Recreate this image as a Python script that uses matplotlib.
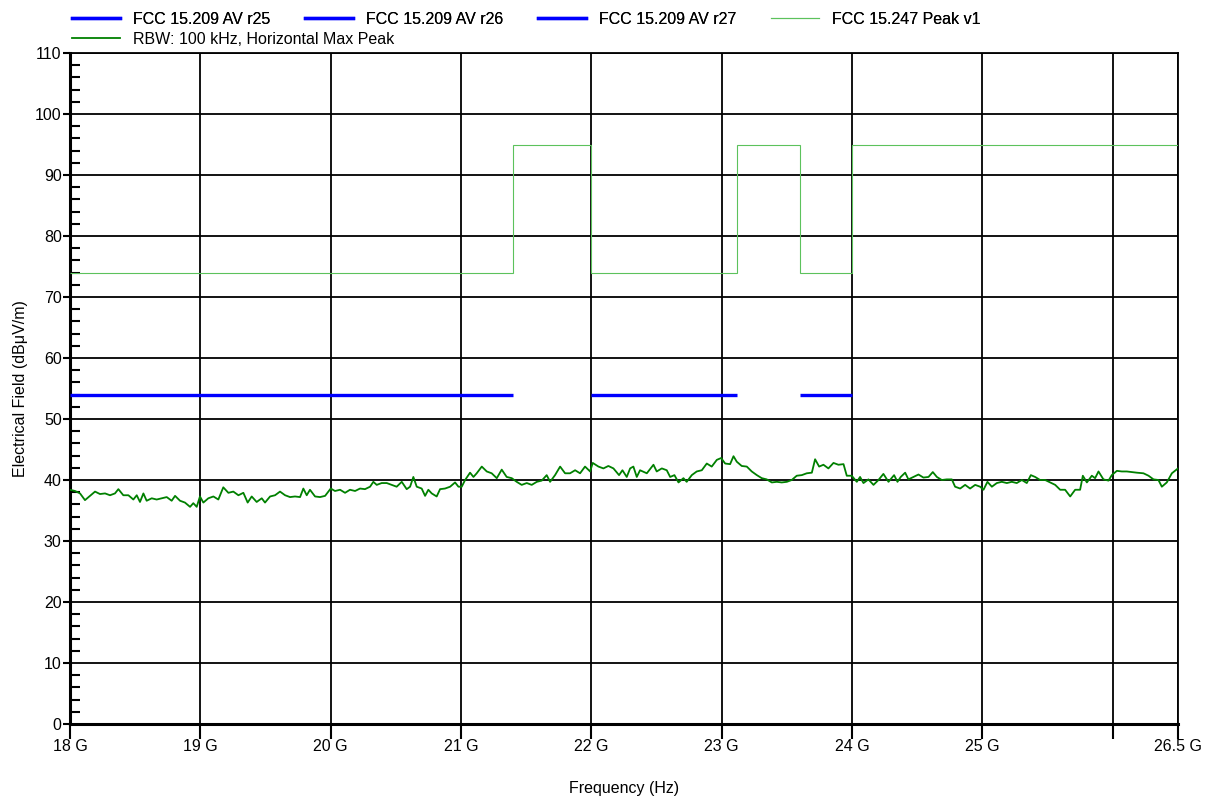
import matplotlib
matplotlib.use('Agg')
import matplotlib.pyplot as plt
from matplotlib.lines import Line2D
from matplotlib.ticker import MultipleLocator, FixedLocator

plt.rcParams['font.family'] = ['Liberation Sans', 'DejaVu Sans']

# measured trace (GHz, dBuV/m)
freq = [
    18.000, 18.038, 18.077, 18.115, 18.153, 18.192, 18.230, 18.269, 18.307, 18.345,
    18.371, 18.409, 18.448, 18.486, 18.512, 18.537, 18.563, 18.588, 18.627, 18.665,
    18.703, 18.742, 18.780, 18.806, 18.844, 18.882, 18.921, 18.946, 18.972, 18.997,
    19.023, 19.061, 19.100, 19.138, 19.176, 19.215, 19.253, 19.292, 19.330, 19.363,
    19.394, 19.432, 19.471, 19.496, 19.535, 19.573, 19.611, 19.650, 19.688, 19.726,
    19.765, 19.790, 19.816, 19.841, 19.880, 19.918, 19.957, 20.000, 20.033, 20.072,
    20.110, 20.148, 20.187, 20.225, 20.263, 20.302, 20.327, 20.353, 20.391, 20.430,
    20.468, 20.506, 20.545, 20.583, 20.609, 20.634, 20.660, 20.698, 20.724, 20.749,
    20.775, 20.813, 20.839, 20.877, 20.916, 20.954, 20.980, 21.005, 21.031, 21.069,
    21.095, 21.120, 21.159, 21.197, 21.235, 21.274, 21.312, 21.350, 21.389, 21.427,
    21.465, 21.504, 21.542, 21.581, 21.619, 21.657, 21.683, 21.721, 21.760, 21.798,
    21.836, 21.875, 21.913, 21.951, 21.990, 22.010, 22.054, 22.092, 22.130, 22.169,
    22.212, 22.238, 22.271, 22.297, 22.322, 22.348, 22.373, 22.425, 22.476, 22.501,
    22.540, 22.578, 22.604, 22.637, 22.668, 22.706, 22.731, 22.770, 22.808, 22.847,
    22.885, 22.923, 22.962, 22.995, 23.026, 23.064, 23.090, 23.115, 23.153, 23.192,
    23.230, 23.269, 23.307, 23.345, 23.384, 23.422, 23.460, 23.499, 23.537, 23.575,
    23.614, 23.652, 23.691, 23.716, 23.747, 23.780, 23.818, 23.857, 23.895, 23.934,
    23.959, 23.997, 24.036, 24.061, 24.087, 24.125, 24.164, 24.202, 24.240, 24.279,
    24.322, 24.348, 24.373, 24.407, 24.432, 24.471, 24.509, 24.547, 24.586, 24.619,
    24.650, 24.688, 24.726, 24.765, 24.790, 24.829, 24.867, 24.905, 24.944, 24.982,
    25.008, 25.038, 25.072, 25.110, 25.148, 25.187, 25.225, 25.263, 25.302, 25.340,
    25.371, 25.404, 25.442, 25.481, 25.519, 25.558, 25.596, 25.634, 25.673, 25.711,
    25.749, 25.770, 25.801, 25.839, 25.864, 25.890, 25.928, 25.967, 25.992, 26.031,
    26.069, 26.107, 26.146, 26.184, 26.235, 26.274, 26.312, 26.350, 26.376, 26.414,
    26.453, 26.500,
]
level = [
    38.4, 38.2, 37.8, 36.7, 37.4, 38.1, 37.7, 37.8, 37.5, 37.8,
    38.5, 37.5, 37.5, 36.8, 37.5, 36.4, 37.8, 36.6, 37.0, 36.8,
    37.0, 37.2, 36.6, 37.4, 36.6, 36.3, 35.6, 36.2, 35.6, 37.3,
    36.3, 37.0, 37.3, 36.8, 38.8, 37.9, 38.1, 37.5, 37.9, 36.3,
    37.3, 36.4, 37.0, 36.3, 37.3, 37.5, 38.1, 37.5, 37.2, 37.3,
    37.2, 38.6, 37.5, 38.4, 37.3, 37.2, 37.4, 38.6, 38.2, 38.4,
    37.9, 38.4, 38.2, 38.6, 38.5, 38.9, 39.7, 39.2, 39.5, 39.5,
    39.2, 38.9, 39.7, 38.5, 38.9, 40.5, 38.9, 38.6, 37.4, 38.4,
    37.8, 37.3, 38.5, 38.6, 38.9, 39.6, 38.9, 38.9, 40.0, 41.2,
    40.5, 41.1, 42.2, 41.4, 41.1, 40.3, 41.7, 40.5, 40.3, 39.7,
    39.2, 39.5, 39.2, 39.7, 39.9, 40.8, 39.7, 40.8, 42.2, 41.1,
    41.1, 41.6, 41.1, 42.2, 41.4, 42.8, 42.2, 41.9, 42.3, 41.9,
    40.8, 41.6, 40.5, 41.9, 42.2, 40.5, 41.6, 41.1, 42.5, 41.4,
    41.9, 41.6, 40.5, 40.8, 39.6, 40.3, 39.7, 40.8, 41.4, 41.6,
    42.7, 42.2, 43.3, 43.6, 42.7, 42.6, 43.9, 43.0, 42.3, 42.2,
    41.4, 40.8, 40.3, 40.1, 39.6, 39.7, 39.6, 39.7, 40.0, 40.7,
    40.8, 41.1, 41.2, 43.4, 42.2, 42.5, 41.9, 42.8, 42.5, 42.6,
    40.7, 40.7, 39.7, 40.5, 39.5, 40.1, 39.2, 40.0, 41.0, 39.7,
    40.8, 39.7, 40.5, 41.2, 40.1, 40.5, 40.9, 40.4, 40.5, 41.3,
    40.5, 40.0, 40.1, 40.1, 38.9, 38.6, 39.2, 38.6, 39.2, 38.9,
    38.4, 39.7, 38.9, 39.5, 39.7, 39.5, 39.7, 39.5, 40.0, 39.5,
    40.8, 40.5, 40.0, 40.0, 39.6, 39.2, 38.4, 38.4, 37.3, 38.4,
    38.4, 40.7, 39.6, 40.7, 40.3, 41.4, 40.1, 39.9, 40.8, 41.5,
    41.4, 41.4, 41.3, 41.2, 41.1, 40.7, 40.1, 40.0, 38.9, 39.6,
    41.1, 41.9,
]

# limit lines
av_level = 54
av_r25 = [18.0, 21.4]
av_r26 = [22.0, 23.12]
av_r27 = [23.6, 24.0]
peak_edges = [18.0, 21.4, 22.0, 23.12, 23.6, 24.0, 26.5]
peak_vals = [74, 95, 74, 95, 74, 95]

xticks = [18, 19, 20, 21, 22, 23, 24, 25, 26, 26.5]
xlabels = ['18 G', '19 G', '20 G', '21 G', '22 G', '23 G', '24 G', '25 G', '', '26.5 G']

fig = plt.figure(figsize=(12.11, 7.96), dpi=100)
ax = fig.add_axes([70 / 1211, 1 - 724 / 796, 1108 / 1211, 671 / 796])

ax.plot(freq, level, color='#008000', lw=1.3, zorder=4)
ax.stairs(peak_vals, peak_edges, baseline=None, color='#5cc25c', lw=0.8, zorder=3)
for seg in (av_r25, av_r26, av_r27):
    ax.plot(seg, [av_level, av_level], color='#0000ff', lw=2.4, zorder=4,
            solid_capstyle='butt')

ax.set_xlim(18, 26.5)
ax.set_ylim(0, 110)
ax.xaxis.set_major_locator(FixedLocator(xticks))
ax.set_xticklabels(xlabels)
ax.yaxis.set_major_locator(MultipleLocator(10))
ax.yaxis.set_minor_locator(MultipleLocator(2))
ax.grid(True, which='major', color='black', lw=1.3, zorder=1)

ax.tick_params(axis='x', which='major', direction='out', length=11, width=1.5,
               labelsize=11.5, pad=0)
ax.tick_params(axis='y', which='major', direction='out', length=5, width=1.5,
               labelsize=11.5, pad=1)
ax.tick_params(axis='y', which='minor', direction='in', length=7, width=1.5)
ax.tick_params(axis='x', which='minor', length=0)
for s in ax.spines.values():
    s.set_color('black')
    s.set_linewidth(1.3)
ax.spines['left'].set_linewidth(2.2)
ax.spines['bottom'].set_linewidth(2.2)

ax.set_xlabel('Frequency (Hz)', fontsize=11.5, labelpad=19)
ax.set_ylabel('Electrical Field (dBμV/m)', fontsize=11.5, labelpad=5)

# legend: four entries in the first row, trace below the first
h_av = Line2D([], [], color='#0000ff', lw=2.4)
h_pk = Line2D([], [], color='#5cc25c', lw=0.8)
h_tr = Line2D([], [], color='#008000', lw=1.3)
leg1 = fig.legend([h_av, h_av, h_av, h_pk],
                  ['FCC 15.209 AV r25', 'FCC 15.209 AV r26', 'FCC 15.209 AV r27',
                   'FCC 15.247 Peak v1'],
                  ncol=4, loc='upper left', bbox_to_anchor=(72 / 1211, 1 - 12 / 796),
                  frameon=False, fontsize=11.5, handlelength=3.0, handletextpad=0.8,
                  columnspacing=2.2, borderaxespad=0, borderpad=0)
fig.add_artist(leg1)
fig.legend([h_tr], ['RBW: 100 kHz, Horizontal Max Peak'],
           loc='upper left', bbox_to_anchor=(72 / 1211, 1 - 32 / 796),
           frameon=False, fontsize=11.5, handlelength=3.0, handletextpad=0.8,
           borderaxespad=0, borderpad=0)

fig.savefig('out.png', dpi=100)
